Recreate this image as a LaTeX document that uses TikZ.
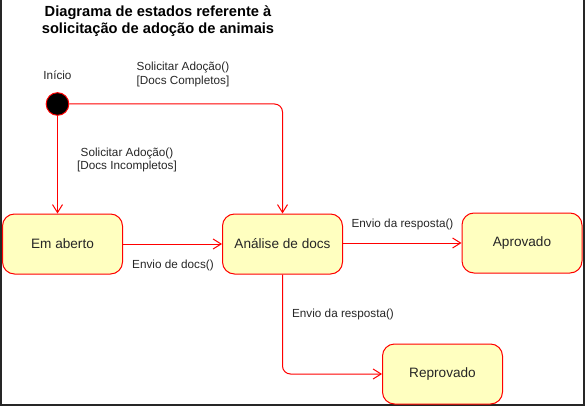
\documentclass[tikz,border=0pt]{standalone}
\usepackage{fontspec}
\setmainfont{Liberation Sans}
\usetikzlibrary{positioning, arrows.meta}
\definecolor{amarelo}{HTML}{FFFFC0}

\begin{document}
\begin{tikzpicture}[x=0.75pt, y=-0.75pt, line width=0.75pt,
    estado/.style={draw=red, fill=amarelo, rounded corners=9pt, minimum width=90pt, minimum height=45pt, text=black!85, font=\fontsize{10.2}{12}\selectfont},
    seta/.style={red, -{Straight Barb[length=6pt, width=7.5pt]}},
    rotulo/.style={align=center, inner sep=0pt, text=black!85, font=\fontsize{8.8}{10.2}\selectfont}]
    \useasboundingbox (0,0) rectangle (585,406);
    % moldura escura do recorte
    \fill[black!85] (0,0) rectangle (2,406);
    \fill[black!85] (583,0) rectangle (585,406);
    \fill[black!85] (0,404) rectangle (585,406);
    \node[align=center, font=\fontsize{11}{12.9}\selectfont\bfseries] (titulo) at (158,21) {Diagrama de estados referente à\\solicitação de adoção de animais};
    \node[rotulo] (inicio) at (57.5,75) {Início};
    \node[circle, draw=red, fill=black, minimum size=17pt, inner sep=0pt] (ini) at (57.5,104) {};
    \node[estado] (aberto) at (62.5,244) {Em aberto};
    \node[estado] (analise) at (282.5,244) {Análise de docs};
    \node[estado] (aprovado) at (522,243) {Aprovado};
    \node[estado] (reprovado) at (442.5,374) {Reprovado};
    \draw[seta, rounded corners=6pt] (ini) -| (analise);
    \draw[seta] (ini) -- (ini |- aberto.north);
    \draw[seta] (aberto) -- (analise);
    \draw[seta] (analise.east |- aprovado) -- (aprovado);
    \draw[seta, rounded corners=6pt] (analise) |- (reprovado);
    \node[rotulo] (l1) at (183,74.5) {Solicitar Adoção()\\{}[Docs Completos]};
    \node[rotulo] (l2) at (127,160) {Solicitar Adoção()\\{}[Docs Incompletos]};
    \node[rotulo] (l3) at (173,265) {Envio de docs()};
    \node[rotulo] (l4) at (402.5,224) {Envio da resposta()};
    \node[rotulo] (l5) at (343,314) {Envio da resposta()};
\end{tikzpicture}
\end{document}
